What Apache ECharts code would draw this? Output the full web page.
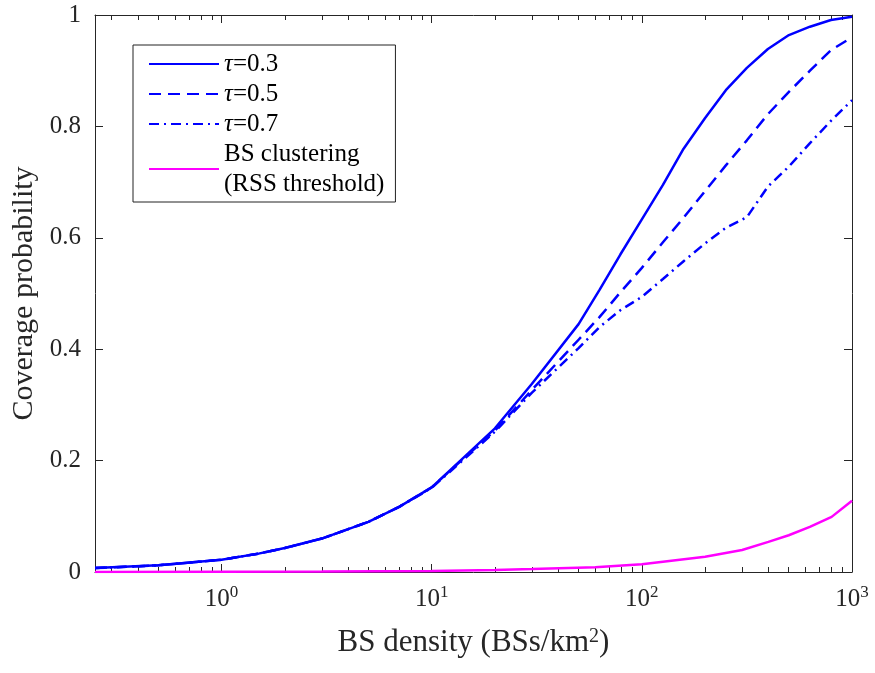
<!DOCTYPE html>
<html>
<head>
<meta charset="utf-8">
<script src="https://cdn.jsdelivr.net/npm/echarts@6/dist/echarts.min.js"></script>
<style>
  html, body { margin: 0; padding: 0; background: #fff; }
  #chart { width: 875px; height: 673px; }
</style>
</head>
<body>
<div id="chart"></div>
<script>
// BS density samples (BSs/km^2) shared by the three tau curves
const densityTau = [0.25, 0.5, 1, 1.5, 2, 3, 5, 7, 10, 15, 20, 30, 50, 63, 79, 100, 126, 158, 200, 251, 316, 398, 501, 631, 794, 1000];
const coverageTau03 = [0.007, 0.012, 0.022, 0.033, 0.043, 0.060, 0.090, 0.117, 0.152, 0.214, 0.258, 0.338, 0.445, 0.507, 0.570, 0.633, 0.695, 0.760, 0.815, 0.865, 0.905, 0.939, 0.964, 0.979, 0.991, 0.997];
const coverageTau05 = [0.007, 0.012, 0.022, 0.033, 0.043, 0.060, 0.090, 0.117, 0.152, 0.212, 0.254, 0.327, 0.417, 0.458, 0.502, 0.546, 0.592, 0.636, 0.684, 0.730, 0.775, 0.822, 0.862, 0.900, 0.937, 0.960];
const coverageTau07 = [0.007, 0.012, 0.022, 0.033, 0.043, 0.060, 0.090, 0.117, 0.151, 0.210, 0.252, 0.322, 0.402, 0.440, 0.470, 0.494, 0.526, 0.558, 0.590, 0.618, 0.637, 0.692, 0.728, 0.770, 0.810, 0.847];

// BS clustering with RSS threshold
const densityCluster = [0.25, 1, 3, 10, 20, 30, 60, 100, 200, 300, 400, 500, 630, 800, 1000];
const coverageCluster = [0.0, 0.0003, 0.0008, 0.002, 0.0036, 0.0053, 0.0086, 0.014, 0.0275, 0.0395, 0.054, 0.066, 0.081, 0.099, 0.128];

// Axis ticks
const xMajorTicks = [1, 10, 100, 1000];
const xMinorTicks = [0.3, 0.4, 0.5, 0.6, 0.7, 0.8, 0.9, 2, 3, 4, 5, 6, 7, 8, 9, 20, 30, 40, 50, 60, 70, 80, 90, 200, 300, 400, 500, 600, 700, 800, 900];
const xMin = 0.25, xMax = 1000;
const yMin = 0, yMax = 1, yStep = 0.2;

const seriesNames = ['τ=0.3', 'τ=0.5', 'τ=0.7', 'BS clustering\n(RSS threshold)'];

const FONT = 'Liberation Serif';
const INK = '#262626';

function pairs(xs, ys) { return xs.map((x, i) => [x, ys[i]]); }

// Main logarithmic density axis (carries the data and the decade labels)
function xLogAxis(position, showLabel) {
  return {
    type: 'log', logBase: 10, min: xMin, max: xMax, position: position,
    axisLine: { show: true, lineStyle: { color: INK, width: 1 } },
    axisTick: { show: true, inside: true, length: 8, customValues: xMajorTicks, lineStyle: { color: INK, width: 1 } },
    axisLabel: showLabel ? {
      show: true, customValues: xMajorTicks, margin: 12, color: INK,
      formatter: v => '{b|10}{s|' + Math.round(Math.log10(v)) + '}',
      rich: {
        b: { fontFamily: FONT, fontSize: 25, color: INK, lineHeight: 28, verticalAlign: 'bottom' },
        s: { fontFamily: FONT, fontSize: 17, color: INK, lineHeight: 17, verticalAlign: 'top' }
      }
    } : { show: false },
    splitLine: { show: false },
    minorTick: { show: false }
  };
}

// Minor decade ticks, placed on a linear axis spanning log10 of the same range
function xMinorAxis(position) {
  return {
    type: 'value', min: Math.log10(xMin), max: Math.log10(xMax), position: position,
    axisLine: { show: false },
    axisTick: { show: true, inside: true, length: 5, customValues: xMinorTicks.map(v => Math.log10(v)), lineStyle: { color: INK, width: 1 } },
    axisLabel: { show: false },
    splitLine: { show: false }
  };
}

function yAxisDef(position, showLabel) {
  return {
    type: 'value', min: yMin, max: yMax, interval: yStep, position: position,
    axisLine: { show: true, onZero: false, lineStyle: { color: INK, width: 1 } },
    axisTick: { show: true, inside: true, length: 8, lineStyle: { color: INK, width: 1 } },
    axisLabel: { show: showLabel, margin: 14, color: INK, fontFamily: FONT, fontSize: 25 },
    splitLine: { show: false }
  };
}

const xAxes = [
  xLogAxis('bottom', true),
  xMinorAxis('bottom'),
  xLogAxis('top', false),
  xMinorAxis('top')
];
xAxes[0].name = 'BS density (BSs/km{s|2})';
xAxes[0].nameLocation = 'middle';
xAxes[0].nameGap = 55;
xAxes[0].nameTextStyle = {
  fontFamily: FONT, fontSize: 31, color: INK,
  rich: { s: { fontFamily: FONT, fontSize: 20, color: INK, verticalAlign: 'top', lineHeight: 20 } }
};

const yAxes = [yAxisDef('left', true), yAxisDef('right', false)];
yAxes[0].name = 'Coverage probability';
yAxes[0].nameLocation = 'middle';
yAxes[0].nameGap = 50;
yAxes[0].nameTextStyle = { fontFamily: FONT, fontSize: 30, color: INK };

function lineSeries(name, data, color, dash) {
  return {
    name: name, type: 'line', data: data, xAxisIndex: 0, yAxisIndex: 0,
    symbol: 'none', showSymbol: false, smooth: false,
    lineStyle: { color: color, width: 2.5, type: dash },
    itemStyle: { color: color },
    emphasis: { disabled: true }
  };
}

const option = {
  animation: false,
  backgroundColor: '#fff',
  grid: { left: 95, right: 23, top: 15, bottom: 101, containLabel: false },
  xAxis: xAxes,
  yAxis: yAxes,
  legend: {
    orient: 'vertical', left: 133, top: 45,
    padding: [4, 11, 3, 15],
    itemWidth: 70, itemHeight: 2, itemGap: 0,
    itemStyle: { opacity: 0 },
    backgroundColor: '#fff', borderColor: '#222', borderWidth: 1,
    data: seriesNames,
    formatter: name => name.replace('τ', '{i|τ}'),
    textStyle: {
      fontFamily: FONT, fontSize: 25, color: '#000', lineHeight: 30,
      rich: { i: { fontFamily: FONT, fontSize: 25, fontStyle: 'italic', color: '#000', lineHeight: 30 } }
    }
  },
  series: [
    lineSeries(seriesNames[0], pairs(densityTau, coverageTau03), '#0000ff', 'solid'),
    lineSeries(seriesNames[1], pairs(densityTau, coverageTau05), '#0000ff', [12, 7]),
    lineSeries(seriesNames[2], pairs(densityTau, coverageTau07), '#0000ff', [10, 5, 2, 5]),
    lineSeries(seriesNames[3], pairs(densityCluster, coverageCluster), '#ff00ff', 'solid')
  ]
};

const chart = echarts.init(document.getElementById('chart'), null, { renderer: 'canvas' });
chart.setOption(option);
</script>
</body>
</html>
